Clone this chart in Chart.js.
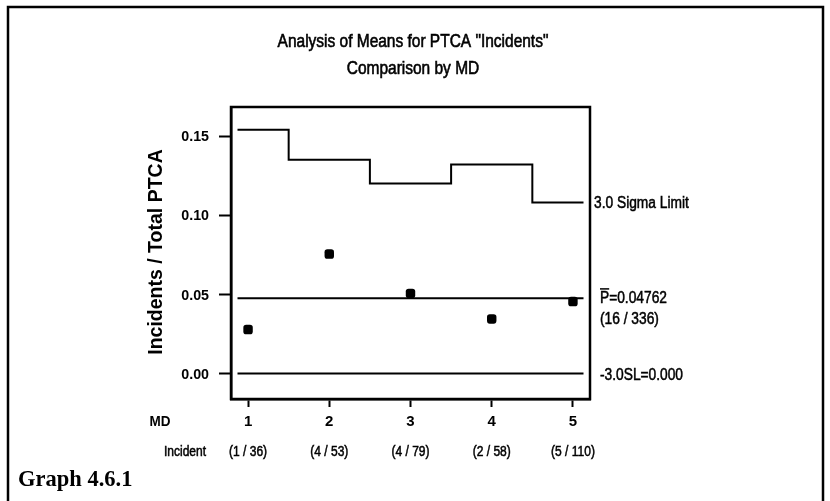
<!DOCTYPE html>
<html>
<head>
<meta charset="utf-8">
<script src="https://cdn.jsdelivr.net/npm/chart.js@4.4.1/dist/chart.umd.min.js"></script>
<style>
  html, body { margin: 0; padding: 0; background: #fff; }
  #wrap { position: relative; width: 830px; height: 501px; }
</style>
</head>
<body>
<div id="wrap"><canvas id="anom" width="830" height="501"></canvas></div>
<script>
// ---- data ----
const mdIds = [1, 2, 3, 4, 5];
const incidents = [1, 4, 4, 2, 5];
const totals = [36, 53, 79, 58, 110];
const upperLimits = [0.154, 0.135, 0.120, 0.132, 0.108];
const lowerLimit = 0.0;
const yTickValues = [0.00, 0.05, 0.10, 0.15];

const totalIncidents = incidents.reduce((a, b) => a + b, 0);
const totalCases = totals.reduce((a, b) => a + b, 0);
const pBar = Number((totalIncidents / totalCases).toFixed(5));
const proportions = incidents.map((n, i) => n / totals[i]);

// ---- fonts ----
const SANS = '"Liberation Sans", Arial, sans-serif';
const SERIF = '"Liberation Serif", "Times New Roman", serif';

// reference lines run slightly inside the frame
const LINE_START = 0.87;
const LINE_END = 5.13;

// stepped upper decision limit
const uclPoints = [];
mdIds.forEach((md, i) => {
    const x0 = i === 0 ? LINE_START : md - 0.5;
    const x1 = i === mdIds.length - 1 ? LINE_END : md + 0.5;
    uclPoints.push({ x: x0, y: upperLimits[i] });
    uclPoints.push({ x: x1, y: upperLimits[i] });
});

// squeezed, slightly heavy text like the old plotter output
function drawText(ctx, text, x, y, font, opts = {}) {
    const { align = 'left', sx = 1, stroke = 0 } = opts;
    ctx.save();
    ctx.translate(x, y);
    ctx.scale(sx, 1);
    ctx.font = font;
    ctx.textAlign = align;
    ctx.textBaseline = 'middle';
    ctx.fillText(text, 0, 0);
    if (stroke) {
        ctx.lineWidth = stroke;
        ctx.strokeText(text, 0, 0);
    }
    ctx.restore();
}

const framePlugin = {
    id: 'frame',
    afterDraw(chart) {
        const { ctx, chartArea } = chart;
        ctx.save();
        ctx.strokeStyle = '#000';
        ctx.lineWidth = 2.5;
        ctx.strokeRect(chartArea.left, chartArea.top,
            chartArea.right - chartArea.left, chartArea.bottom - chartArea.top);

        // outer page border
        ctx.strokeRect(8, 7, 815, 600);
        ctx.restore();
    }
};

const labelsPlugin = {
    id: 'labels',
    afterDraw(chart) {
        const { ctx } = chart;
        const xs = chart.scales.x;
        const ys = chart.scales.y;
        ctx.save();
        ctx.fillStyle = '#000';
        ctx.strokeStyle = '#000';

        // title
        drawText(ctx, 'Analysis of Means for PTCA "Incidents"', 413, 42,
            `18px ${SANS}`, { align: 'center', sx: 0.86, stroke: 0.6 });
        drawText(ctx, 'Comparison by MD', 413, 69,
            `18px ${SANS}`, { align: 'center', sx: 0.86, stroke: 0.6 });

        // y axis title
        ctx.save();
        ctx.translate(157, 252);
        ctx.rotate(-Math.PI / 2);
        drawText(ctx, 'Incidents / Total PTCA', 0, 0, `bold 19.5px ${SANS}`, { align: 'center' });
        ctx.restore();

        // tick labels
        yTickValues.forEach(v => {
            drawText(ctx, v.toFixed(2), 209, ys.getPixelForValue(v) + 1,
                `bold 15px ${SANS}`, { align: 'right', sx: 0.95 });
        });
        mdIds.forEach(md => {
            drawText(ctx, String(md), xs.getPixelForValue(md), 422,
                `bold 15px ${SANS}`, { align: 'center' });
        });

        // row headers under the axis
        drawText(ctx, 'MD', 160, 422, `bold 15px ${SANS}`, { align: 'center', sx: 0.9 });
        drawText(ctx, 'Incident', 185, 452, `14px ${SANS}`, { align: 'center', sx: 0.86, stroke: 0.5 });
        mdIds.forEach((md, i) => {
            drawText(ctx, `(${incidents[i]} / ${totals[i]})`, xs.getPixelForValue(md), 452,
                `14px ${SANS}`, { align: 'center', sx: 0.86, stroke: 0.5 });
        });

        // limit annotations on the right
        const rightFont = `16px ${SANS}`;
        const rightOpts = { sx: 0.86, stroke: 0.5 };
        drawText(ctx, '3.0 Sigma Limit', 594,
            ys.getPixelForValue(upperLimits[upperLimits.length - 1]) + 1, rightFont, rightOpts);

        const yc = ys.getPixelForValue(pBar);
        drawText(ctx, 'P=' + pBar.toFixed(5), 600, yc, rightFont, rightOpts);
        ctx.font = rightFont;
        const pw = ctx.measureText('P').width * 0.86;
        ctx.fillRect(600, yc - 10, pw, 1.5);
        drawText(ctx, `(${totalIncidents} / ${totalCases})`, 600, yc + 21, rightFont, rightOpts);

        drawText(ctx, '-3.0SL=' + lowerLimit.toFixed(3), 600,
            ys.getPixelForValue(lowerLimit) + 2, rightFont, rightOpts);

        // caption
        ctx.textAlign = 'left';
        ctx.textBaseline = 'alphabetic';
        ctx.font = `bold 22.5px ${SERIF}`;
        ctx.fillText('Graph 4.6.1', 18, 486);

        ctx.restore();
    }
};

new Chart(document.getElementById('anom'), {
    type: 'scatter',

    data: {
        datasets: [
            {
                label: 'Upper limit',
                data: uclPoints,
                showLine: true,
                borderColor: '#000',
                borderWidth: 2,
                pointRadius: 0,
                fill: false
            },
            {
                label: 'Center',
                data: [{ x: LINE_START, y: pBar }, { x: LINE_END, y: pBar }],
                showLine: true,
                borderColor: '#000',
                borderWidth: 2,
                pointRadius: 0
            },
            {
                label: 'Lower limit',
                data: [{ x: LINE_START, y: lowerLimit }, { x: LINE_END, y: lowerLimit }],
                showLine: true,
                borderColor: '#000',
                borderWidth: 2,
                pointRadius: 0
            },
            {
                label: 'Proportion',
                data: mdIds.map((md, i) => ({ x: md, y: proportions[i] })),
                pointStyle: 'rectRounded',
                pointRadius: 5.5,
                backgroundColor: '#000',
                borderColor: '#000',
                borderWidth: 0
            }
        ]
    },

    options: {
        responsive: false,
        animation: false,
        devicePixelRatio: 1,

        layout: {
            padding: { left: 0, top: 107, right: 240, bottom: 0 }
        },

        plugins: {
            legend: { display: false },
            tooltip: { enabled: false },
            title: { display: false }
        },

        scales: {
            x: {
                type: 'linear',
                min: 0.79,
                max: 5.21,
                afterBuildTicks(scale) {
                    scale.ticks = mdIds.map(v => ({ value: v }));
                },
                afterFit(scale) {
                    scale.height = 102;
                },
                border: { display: true, color: '#000', width: 2.5 },
                grid: {
                    drawOnChartArea: false,
                    drawTicks: true,
                    tickLength: 8,
                    tickWidth: 2,
                    tickColor: '#000'
                },
                ticks: { display: false }
            },

            y: {
                type: 'linear',
                min: -0.0161,
                max: 0.1684,
                afterBuildTicks(scale) {
                    scale.ticks = yTickValues.map(v => ({ value: v }));
                },
                afterFit(scale) {
                    scale.width = 231;
                },
                border: { display: true, color: '#000', width: 2.5 },
                grid: {
                    drawOnChartArea: false,
                    drawTicks: true,
                    tickLength: 12,
                    tickWidth: 2,
                    tickColor: '#000'
                },
                ticks: { display: false }
            }
        }
    },

    plugins: [framePlugin, labelsPlugin]
});
</script>
</body>
</html>
